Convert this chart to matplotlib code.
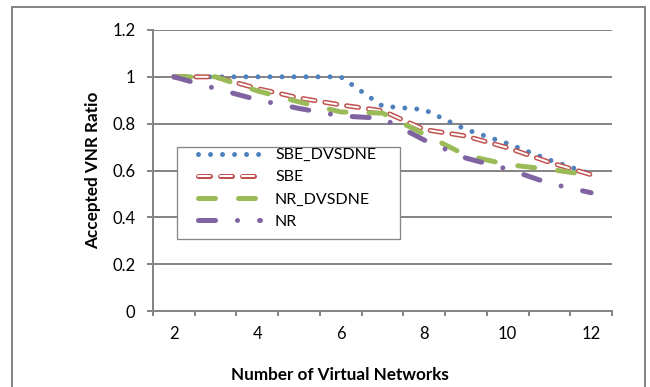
import matplotlib
matplotlib.use("Agg")
import matplotlib.pyplot as plt
from matplotlib.patches import Rectangle
from matplotlib.legend_handler import HandlerTuple
import numpy as np

plt.rcParams['font.family'] = ['Lato', 'DejaVu Sans']
plt.rcParams['lines.scale_dashes'] = False

# ---- data ----
categories = [2, 3, 4, 5, 6, 7, 8, 9, 10, 11, 12]
sbe_dvsdne = [1.0, 1.0, 1.0, 1.0, 1.0, 0.875, 0.86, 0.775, 0.715, 0.645, 0.585]
sbe = [1.0, 1.0, 0.95, 0.91, 0.88, 0.855, 0.775, 0.747, 0.697, 0.635, 0.582]
nr_dvsdne = [1.0, 1.0, 0.94, 0.893, 0.85, 0.845, 0.755, 0.665, 0.625, 0.605, 0.58]
nr = [1.0, 0.95, 0.902, 0.865, 0.833, 0.823, 0.73, 0.653, 0.606, 0.545, 0.505]
series_names = ["SBE_DVSDNE", "SBE", "NR_DVSDNE", "NR"]
yticks = [0, 0.2, 0.4, 0.6, 0.8, 1.0, 1.2]
ytick_labels = ["0", "0.2", "0.4", "0.6", "0.8", "1", "1.2"]
xtick_labels = ["2", "4", "6", "8", "10", "12"]

W, H = 650, 387
fig = plt.figure(figsize=(W / 100, H / 100), dpi=100)
ax = fig.add_axes([153 / W, 1 - 311 / H, (612 - 153) / W, (311 - 30) / H])

px = 0.72  # points per pixel
grey = "#868686"
blue, red, green, purple = "#4F81BD", "#C0504D", "#9BBB59", "#8064A2"

x = np.arange(len(categories))

l1, = ax.plot(x, sbe_dvsdne, color=blue, lw=5 * px, solid_capstyle='round',
              dash_capstyle='round', dashes=(0.01, 12 * px), zorder=3)
l2a, = ax.plot(x, sbe, color=red, lw=5 * px, dash_capstyle='round',
               dashes=(12 * px, 10 * px), zorder=4)
l2b, = ax.plot(x, sbe, color="white", lw=2 * px, dash_capstyle='round',
               dashes=(12 * px, 10 * px), zorder=4.1)
l3, = ax.plot(x, nr_dvsdne, color=green, lw=5 * px, dash_capstyle='round',
              dashes=(17 * px, 23 * px), zorder=5)
l4, = ax.plot(x, nr, color=purple, lw=5 * px, dash_capstyle='round',
              dashes=(17 * px, 22 * px, 0.01, 22 * px), zorder=6)

ax.set_xlim(-0.5, len(categories) - 0.5)
ax.set_ylim(0, 1.2)
ax.set_yticks(yticks)
ax.set_yticklabels(ytick_labels)
ax.set_xticks(x[::2])
ax.set_xticklabels(xtick_labels)
ax.set_xticks(np.arange(-0.5, len(categories)), minor=True)
ax.tick_params(axis='x', which='major', length=0, pad=10.5, labelsize=12, colors='black')
ax.tick_params(axis='x', which='minor', length=5 * px, width=2 * px, color=grey)
ax.tick_params(axis='y', length=6 * px, width=2 * px, color=grey, pad=8.2, labelsize=12)
for s in ['top', 'right']:
    ax.spines[s].set_visible(False)
for s in ['left', 'bottom']:
    ax.spines[s].set_color(grey)
    ax.spines[s].set_linewidth(2 * px)
ax.grid(axis='y', color=grey, lw=2 * px, zorder=1)
ax.set_axisbelow(True)

ax.set_xlabel("Number of Virtual Networks", fontsize=12.3, fontweight='bold')
ax.xaxis.set_label_coords((340 - 153) / 459, (311 - 375) / 281)
ax.set_ylabel("Accepted VNR Ratio", fontsize=12.3, fontweight='bold')
ax.yaxis.set_label_coords((93 - 153) / 459, (311 - 170) / 281)
ax.xaxis.label.set_va('center')
ax.yaxis.label.set_va('center')

# legend box
box = Rectangle(((177 - 153) / 459, (311 - 239) / 281), (400 - 177) / 459, (239 - 147) / 281,
                transform=ax.transAxes, facecolor='white', edgecolor=grey, lw=1.3 * px,
                zorder=7)
ax.add_patch(box)
fs = 11.5
em = fs / 0.72
leg = ax.legend([l1, (l2a, l2b), l3, l4], series_names,
                handler_map={tuple: HandlerTuple(ndivide=1, pad=0)},
                loc='upper left', bbox_to_anchor=((198 - 153) / 459, (311 - 148) / 281),
                frameon=False, fontsize=fs, borderpad=0, borderaxespad=0,
                handlelength=62 / em, handletextpad=15 / em, labelspacing=0.5)
leg.set_zorder(8)

# outer chart border
border = Rectangle((12 / W, -0.1), (645 - 12) / W, 1 - 7 / H + 0.1, transform=fig.transFigure,
                   facecolor='none', edgecolor=grey, lw=2 * px, clip_on=False)
fig.patches.append(border)

fig.savefig("out.png", dpi=100)
